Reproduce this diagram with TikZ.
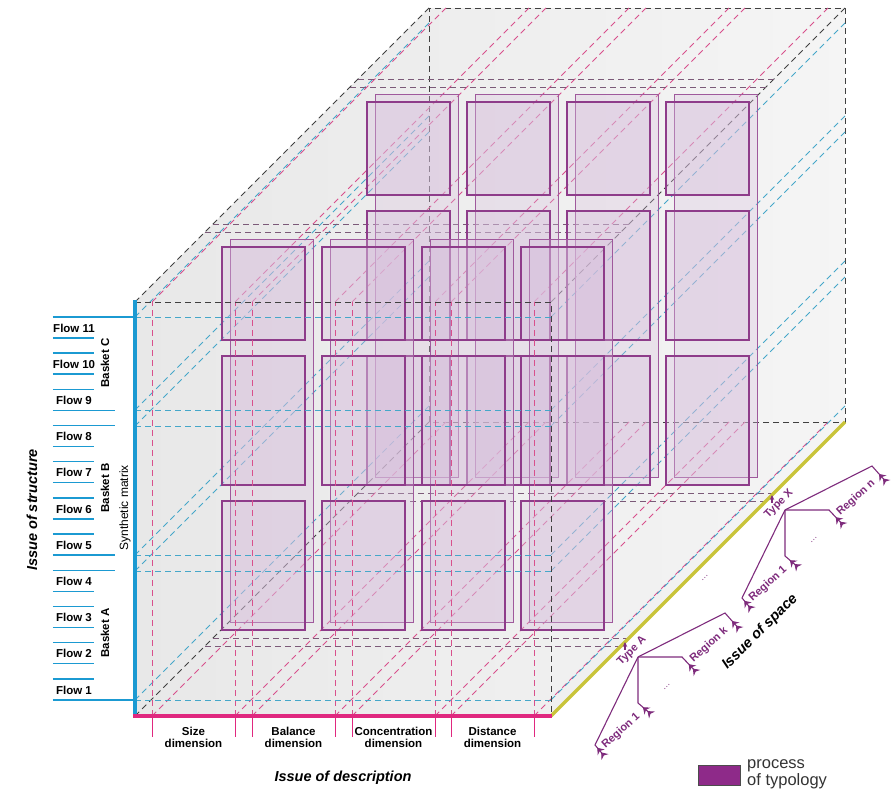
\documentclass[tikz,border=0pt]{standalone}
\usepackage{fontspec}
\setmainfont{Liberation Sans}
\usetikzlibrary{arrows.meta}
\definecolor{structblue}{HTML}{1B9AD2}
\definecolor{basketblue}{HTML}{45A7C9}
\definecolor{descpink}{HTML}{E0287F}
\definecolor{dimpink}{HTML}{D8508C}
\definecolor{spaceyellow}{HTML}{C9C43A}
\definecolor{cellline}{HTML}{8E3C8A}
\definecolor{cellfill}{HTML}{D7BEDC}
\definecolor{slabgray}{HTML}{7B5A78}
\definecolor{typepurple}{HTML}{7E2B7C}
\definecolor{legendpurple}{HTML}{8E2A89}
\tikzset{
  cubeline/.style={black!75,dash pattern=on 6pt off 4pt,line width=0.9pt},
  dimline/.style={dimpink,dash pattern=on 6pt off 4pt,line width=0.9pt},
  basketline/.style={basketblue,dash pattern=on 6pt off 4pt,line width=0.9pt},
  slabline/.style={slabgray,dash pattern=on 6pt off 4pt,line width=0.9pt},
  cellbox/.style={draw=cellline,line width=1.1pt,fill=cellfill,fill opacity=0.35},
  backbox/.style={draw=cellline!85,line width=0.9pt,fill=cellfill,fill opacity=0.3},
  flowline/.style={structblue,line width=1.4pt},
  flowlabel/.style={font=\bfseries\fontsize{11.5}{12}\selectfont,inner sep=0pt},
  dimlabel/.style={font=\bfseries\fontsize{11.5}{12.5}\selectfont,align=center,inner sep=0pt},
  issuelabel/.style={font=\bfseries\itshape\fontsize{14.5}{16}\selectfont,inner sep=0pt},
  branch/.style={typepurple,line width=1.1pt},
  regionend/.style={branch,-{Stealth[length=6pt,width=9pt,reversed]Stealth[length=6pt,width=9pt,reversed]}},
  typelabel/.style={typepurple,font=\bfseries\fontsize{11}{12}\selectfont,inner sep=0pt}
}
\begin{document}
\begin{tikzpicture}[x=1pt,y=1pt,z={(1pt,1pt)}]
  \useasboundingbox (-135,-75) rectangle (757,716);
  % cube body
  \shade[left color=black!9,right color=black!4] (0,0,0) -- (0,414,0) -- (0,414,294)
    -- (416,414,294) -- (416,0,294) -- (416,0,0) -- cycle;
  \draw[cubeline] (0,0,294) rectangle (416,414,294);
  \draw[cubeline] (0,0,0) -- (0,0,294) (0,414,0) -- (0,414,294) (416,414,0) -- (416,414,294);
  % planes going to the back
  \foreach \x in {17,100,117,200,217,300,316,399}
    \draw[dimline] (\x,0,0) -- (\x,0,294) (\x,414,0) -- (\x,414,294);
  \foreach \y in {16,145,161,290,306,399}
    \draw[basketline] (0,\y,0) -- (0,\y,294) (416,\y,0) -- (416,\y,294);
  \foreach \z in {70,78,215,223}
    \draw[slabline] (0,0,\z) -- (416,0,\z) (0,414,\z) -- (416,414,\z);
  % typology cells, back slab first
  \foreach \z in {215,70}{
    \foreach \xa/\xb in {17/100,117/200,217/300,316/399}
      \draw[backbox] (\xa,16,\z+8) rectangle (\xb,399,\z+8);
    \foreach \xa/\xb in {17/100,117/200,217/300,316/399}
      \foreach \ya/\yb in {16/145,161/290,306/399}
        \draw[cellbox] (\xa,\ya,\z) rectangle (\xb,\yb,\z);
  }
  % front face
  \foreach \x in {17,100,117,200,217,300,316,399}
    \draw[dimline] (\x,0) -- (\x,414);
  \foreach \y in {16,145,161,290,306,399}
    \draw[basketline] (0,\y) -- (416,\y);
  \draw[cubeline] (0,414) -- (416,414) -- (416,0);
  % axes
  \draw[spaceyellow,line width=3.2pt] (416,0,0) -- (416,0,294);
  \draw[structblue,line width=3.2pt] (0,-1.5) -- (0,416);
  \draw[descpink,line width=3.2pt] (-1.5,0) -- (417,0);
  % issue of structure
  \foreach \n in {1,...,11}{
    \pgfmathsetmacro{\fy}{26+(\n-1)*36.2}
    \node[flowlabel] (flow\n) at (-61,\fy) {Flow \n};
    \draw[flowline] (-82,\fy+11) -- (-41,\fy+11) (-82,\fy-10) -- (-41,\fy-10);
  }
  \draw[flowline] (-82,399) -- (0,399) (-82,16) -- (0,16);
  \foreach \y in {145.6,160.8,290.4,305.6}
    \draw[flowline] (-82,\y) -- (-20,\y);
  \node[flowlabel,rotate=90] (basketA) at (-30,83) {Basket A};
  \node[flowlabel,rotate=90] (basketB) at (-30,228) {Basket B};
  \node[flowlabel,rotate=90] (basketC) at (-30,353) {Basket C};
  \node[font=\fontsize{12}{13}\selectfont,rotate=90,inner sep=0pt] (synth) at (-10,208) {Synthetic matrix};
  \node[issuelabel,rotate=90] (structure) at (-103,206) {Issue of structure};
  % issue of description
  \foreach \x in {17,100,117,200,217,300,316,399}
    \draw[descpink,line width=1pt] (\x,0) -- (\x,-21);
  \foreach \cx/\txt [count=\i] in {58.5/Size,158.5/Balance,258.5/Concentration,357.5/Distance}
    \node[dimlabel] (dim\i) at (\cx,-21.5) {\txt\\dimension};
  \node[issuelabel] (description) at (208,-62) {Issue of description};
  % issue of space
  \foreach \z/\typ/\reg in {74/A/k,221/X/n}{
    \begin{scope}[shift={(416,0,\z)}]
      \draw[branch,-{Stealth[length=5pt,width=4.5pt]}] (0,-8) -- (0,0);
      \node[typelabel,rotate=45] (type\typ) at (7,-9) {Type \typ};
      \coordinate (root\typ) at (13,-15);
      \coordinate (a\typ) at (100,29);
      \coordinate (b\typ) at (57,-15);
      \coordinate (c\typ) at (13,-61);
      \coordinate (d\typ) at (-30,-103);
      \draw[regionend] (root\typ) -- (a\typ) -- (115,12);
      \draw[regionend] (root\typ) -- (b\typ) -- (72,-31);
      \draw[regionend] (root\typ) -- (c\typ) -- (27,-73);
      \draw[regionend] (root\typ) -- (d\typ) -- (-20,-115);
      \node[typelabel,rotate=42] (last\typ) at (84,-3) {Region \reg};
      \node[typelabel,rotate=42] (first\typ) at (-4,-89) {Region 1};
      \node[typelabel,rotate=45,font=\fontsize{9}{10}\selectfont] (dots\typ) at (42,-45) {…};
    \end{scope}
  }
  \node[typelabel,rotate=45,font=\fontsize{9}{10}\selectfont] (dotsAX) at (570,138) {…};
  \node[issuelabel,rotate=45] (space) at (625,84) {Issue of space};
  % legend
  \node[draw=black!70,fill=legendpurple,minimum width=42pt,minimum height=20pt,inner sep=0pt] (legendbox) at (584,-59) {};
  \node[anchor=west,align=left,text=black!80,font=\fontsize{16.5}{17}\selectfont,inner sep=0pt] (legendtext) at (612,-58) {process\\of typology};
\end{tikzpicture}
\end{document}
